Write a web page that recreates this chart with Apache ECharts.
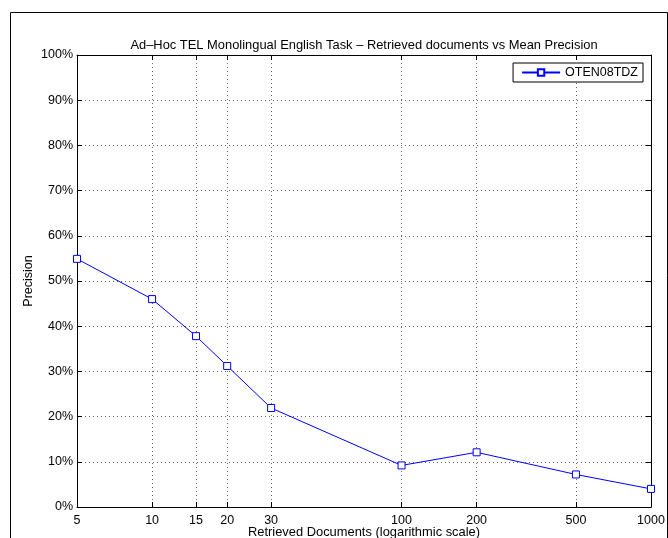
<!DOCTYPE html>
<html>
<head>
<meta charset="utf-8">
<script src="https://cdn.jsdelivr.net/npm/echarts@6/dist/echarts.min.js"></script>
<style>
html,body{margin:0;padding:0;background:#fff;}
#chart{width:668px;height:538px;}
</style>
</head>
<body>
<div id="chart"></div>
<script>
const docs = [5, 10, 15, 20, 30, 100, 200, 500, 1000];
const precision = [54.9, 46.0, 37.8, 31.2, 21.9, 9.2, 12.1, 7.2, 4.0];
const xTicks = [5, 10, 15, 20, 30, 100, 200, 500, 1000];
const seriesName = 'OTEN08TDZ';
const titleText = 'Ad\u2013Hoc TEL Monolingual English Task \u2013 Retrieved documents vs Mean Precision';
const xName = 'Retrieved Documents (logarithmic scale)';
const yName = 'Precision';

const FONT = 'Liberation Sans, Arial, Helvetica, sans-serif';
const FS = 12.5;
const chart = echarts.init(document.getElementById('chart'), null, {renderer: 'canvas'});
const gridStyle = {show: true, lineStyle: {color: '#666', width: 1, type: [1, 3]}};

chart.setOption({
  animation: false,
  backgroundColor: '#fff',
  textStyle: {fontFamily: FONT},
  graphic: [{
    type: 'rect', left: 8, top: 10, z: -10,
    shape: {width: 657, height: 540},
    style: {fill: 'none', stroke: '#000', lineWidth: 1}
  }],
  title: {
    text: titleText, left: 359, top: 34, textAlign: 'center',
    textStyle: {fontFamily: FONT, fontSize: 12.9, fontWeight: 'normal', color: '#000'}
  },
  legend: {
    data: [seriesName], right: 25, top: 63,
    orient: 'vertical',
    backgroundColor: '#fff', borderColor: '#000', borderWidth: 1,
    padding: [3, 5, 3, 8], itemWidth: 38, itemHeight: 8, itemGap: 4,
    textStyle: {fontFamily: FONT, fontSize: FS, color: '#000'}
  },
  grid: {left: 77, right: 17, top: 55, bottom: 31, containLabel: false, outerBoundsMode: 'none'},
  xAxis: [{
    type: 'log', logBase: 10, min: 5, max: 1000, position: 'bottom',
    name: xName, nameLocation: 'middle', nameGap: 19, nameMoveOverlap: false,
    nameTextStyle: {fontFamily: FONT, fontSize: 12.9, color: '#000'},
    axisLine: {show: true, onZero: false, lineStyle: {color: '#000', width: 1}},
    axisTick: {show: true, inside: true, length: 5, customValues: xTicks, lineStyle: {color: '#000'}},
    axisLabel: {show: true, customValues: xTicks, margin: 7, fontFamily: FONT, fontSize: FS, color: '#000',
      formatter: v => String(Math.round(v))},
    splitLine: gridStyle,
    minorTick: {show: false}, minorSplitLine: {show: false}
  }, {
    type: 'log', logBase: 10, min: 5, max: 1000, position: 'top',
    axisLine: {show: true, onZero: false, lineStyle: {color: '#000', width: 1}},
    axisTick: {show: true, inside: true, length: 5, customValues: xTicks, lineStyle: {color: '#000'}},
    axisLabel: {show: false}, splitLine: {show: false}
  }],
  yAxis: [{
    type: 'value', min: 0, max: 100, interval: 10, position: 'left',
    name: yName, nameLocation: 'middle', nameGap: 42, nameRotate: 90, nameMoveOverlap: false,
    nameTextStyle: {fontFamily: FONT, fontSize: FS, color: '#000'},
    axisLine: {show: true, onZero: false, lineStyle: {color: '#000', width: 1}},
    axisTick: {show: true, inside: true, length: 5, lineStyle: {color: '#000'}},
    axisLabel: {show: true, margin: 4, fontFamily: FONT, fontSize: FS, color: '#000', formatter: '{value}%'},
    splitLine: gridStyle
  }, {
    type: 'value', min: 0, max: 100, interval: 10, position: 'right',
    axisLine: {show: true, onZero: false, lineStyle: {color: '#000', width: 1}},
    axisTick: {show: true, inside: true, length: 5, lineStyle: {color: '#000'}},
    axisLabel: {show: false}, splitLine: {show: false}
  }],
  series: [{
    name: seriesName, type: 'line', xAxisIndex: 0, yAxisIndex: 0,
    data: docs.map((d, i) => [d, precision[i]]),
    symbol: 'rect', symbolSize: 7, showSymbol: true,
    lineStyle: {color: '#0000ff', width: 1},
    itemStyle: {color: '#fff', borderColor: '#0000ff', borderWidth: 1},
    emphasis: {disabled: true}
  }]
});
</script>
</body>
</html>
